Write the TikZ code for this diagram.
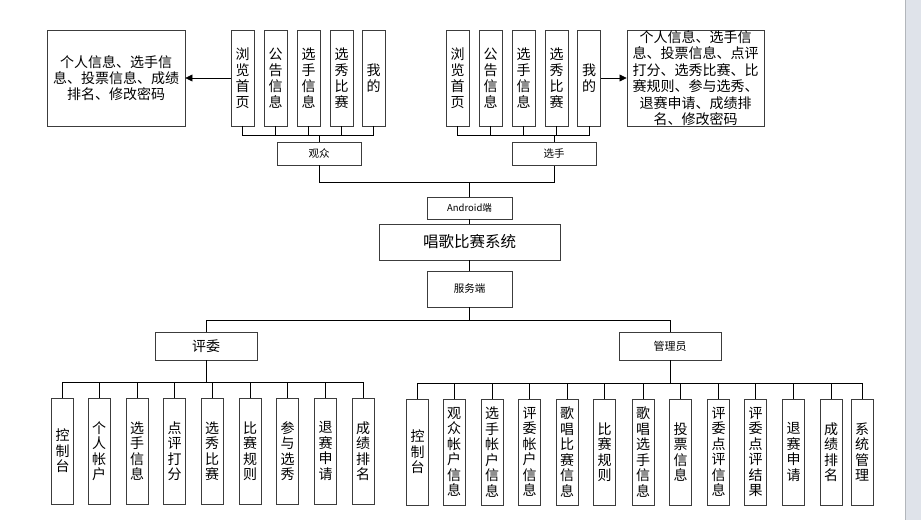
\documentclass[tikz,border=0pt]{standalone}
\usepackage{fontspec}
\setmainfont{Noto Sans CJK SC}
\newfontfamily\cjk{Noto Sans CJK SC}
\usetikzlibrary{arrows.meta}
\definecolor{stripgray}{RGB}{223,227,234}
\definecolor{boxline}{RGB}{60,60,60}
\tikzset{
  bx/.style={draw=boxline, line width=0.9pt, fill=white, inner sep=0pt, align=center},
  vb/.style={bx, minimum width=22pt, minimum height=106pt, font=\cjk\fontsize{14}{15.5}\selectfont},
  tb/.style={bx, minimum width=23pt, minimum height=96pt, font=\cjk\fontsize{14}{16}\selectfont},
  conn/.style={draw=black, line width=0.7pt},
  arr/.style={conn, -{Triangle[length=7pt,width=7pt]}},
}
\begin{document}
\begin{tikzpicture}[x=1pt,y=-1pt]
\useasboundingbox (0,0) rectangle (921,520);
\fill[white] (0,0) rectangle (921,520);
\fill[stripgray] (905,0) rectangle (921,520);
\draw[stripgray!80!black, line width=0.4pt] (905,0) -- (905,520);

% top left cluster
\node[bx, minimum width=138pt, minimum height=96pt, font=\cjk\fontsize{14}{16}\selectfont] (lbox) at (116,78) {个人信息、选手信\\息、投票信息、成绩\\排名、修改密码};
\node[tb] (a1) at (242.5,78) {浏\\览\\首\\页};
\node[tb] (a2) at (275.5,78) {公\\告\\信\\息};
\node[tb] (a3) at (308.5,78) {选\\手\\信\\息};
\node[tb] (a4) at (341.5,78) {选\\秀\\比\\赛};
\node[tb] (a5) at (373.5,78) {我\\的};
\node[bx, minimum width=84pt, minimum height=23pt, font=\cjk\fontsize{10.5}{12}\selectfont] (gz) at (319,153.5) {观众};

% top right cluster
\node[tb] (b1) at (457.5,78) {浏\\览\\首\\页};
\node[tb] (b2) at (490.5,78) {公\\告\\信\\息};
\node[tb] (b3) at (523.5,78) {选\\手\\信\\息};
\node[tb] (b4) at (556.5,78) {选\\秀\\比\\赛};
\node[tb] (b5) at (589,78) {我\\的};
\node[bx, minimum width=137pt, minimum height=96pt, font=\cjk\fontsize{14}{16.5}\selectfont] (rbox) at (695.5,78) {个人信息、选手信\\息、投票信息、点评\\打分、选秀比赛、比\\赛规则、参与选秀、\\退赛申请、成绩排\\名、修改密码};
\node[bx, minimum width=84pt, minimum height=23pt, font=\cjk\fontsize{10.5}{12}\selectfont] (xs) at (554,154) {选手};

% center
\node[bx, minimum width=85pt, minimum height=22pt, font=\cjk\fontsize{9.5}{11}\selectfont] (and) at (469.5,208) {Android端};
\node[bx, minimum width=181pt, minimum height=36pt, font=\cjk\fontsize{15.5}{17}\selectfont] (main) at (469.5,242) {唱歌比赛系统};
\node[bx, minimum width=85pt, minimum height=36pt, font=\cjk\fontsize{10.5}{12}\selectfont] (fw) at (469.5,289) {服务端};

\node[bx, minimum width=102pt, minimum height=28pt, font=\cjk\fontsize{14}{16}\selectfont] (pw) at (206,346) {评委};
\node[bx, minimum width=102pt, minimum height=28pt, font=\cjk\fontsize{11}{13}\selectfont] (gl) at (670,346) {管理员};

% bottom left
\node[vb] (p1) at (62.5,451) {控\\制\\台};
\node[vb] (p2) at (99,451) {个\\人\\帐\\户};
\node[vb] (p3) at (137,451) {选\\手\\信\\息};
\node[vb] (p4) at (174.5,451) {点\\评\\打\\分};
\node[vb] (p5) at (212,451) {选\\秀\\比\\赛};
\node[vb] (p6) at (250,451) {比\\赛\\规\\则};
\node[vb] (p7) at (287.5,451) {参\\与\\选\\秀};
\node[vb] (p8) at (325.5,451) {退\\赛\\申\\请};
\node[vb] (p9) at (363,451) {成\\绩\\排\\名};

% bottom right
\node[vb] (m1) at (417.5,452) {控\\制\\台};
\node[vb] (m2) at (454,452) {观\\众\\帐\\户\\信\\息};
\node[vb] (m3) at (492,452) {选\\手\\帐\\户\\信\\息};
\node[vb] (m4) at (529.5,452) {评\\委\\帐\\户\\信\\息};
\node[vb] (m5) at (567,452) {歌\\唱\\比\\赛\\信\\息};
\node[vb] (m6) at (604.5,452) {比\\赛\\规\\则};
\node[vb] (m7) at (643,452) {歌\\唱\\选\\手\\信\\息};
\node[vb] (m8) at (680.5,452) {投\\票\\信\\息};
\node[vb] (m9) at (718.5,452) {评\\委\\点\\评\\信\\息};
\node[vb] (m10) at (755.5,452) {评\\委\\点\\评\\结\\果};
\node[vb] (m11) at (793.5,452) {退\\赛\\申\\请};
\node[vb] (m12) at (831,452) {成\\绩\\排\\名};
\node[vb] (m13) at (862,452) {系\\统\\管\\理};

% connectors top
\foreach \i in {a1,a2,a3,a4,a5} \draw[conn] (\i.south) |- ([yshift=6pt]gz.north);
\draw[conn] ([yshift=6pt]gz.north) -- (gz.north);
\foreach \i in {b1,b2,b3,b4,b5} \draw[conn] (\i.south) |- ([yshift=7pt]xs.north);
\draw[conn] ([yshift=7pt]xs.north) -- (xs.north);
\draw[arr] (a1.west) -- (lbox.east);
\draw[arr] (b5.east) -- (rbox.west);
\draw[conn] (gz.south) -- ++(0,17) -| (xs.south);
\draw[conn] (and.north) -- ++(0,-15);
\draw[conn] (and.south) -- (main.north);
\draw[conn] (main.south) -- (fw.north);
\draw[conn] (fw.south) -- ++(0,13) coordinate (c0);
\draw[conn] (pw.north) |- (c0);
\draw[conn] (gl.north) |- (c0);

% connectors bottom
\foreach \i in {p1,p2,p3,p4,p5,p6,p7,p8,p9} \draw[conn] (\i.north) |- ([yshift=-22pt]pw.south);
\draw[conn] (pw.south) -- ([yshift=-22pt]pw.south);
\foreach \i in {m1,m2,m3,m4,m5,m6,m7,m8,m9,m10,m11,m12,m13} \draw[conn] (\i.north) |- ([yshift=-23pt]gl.south);
\draw[conn] (gl.south) -- ([yshift=-23pt]gl.south);
\end{tikzpicture}
\end{document}
